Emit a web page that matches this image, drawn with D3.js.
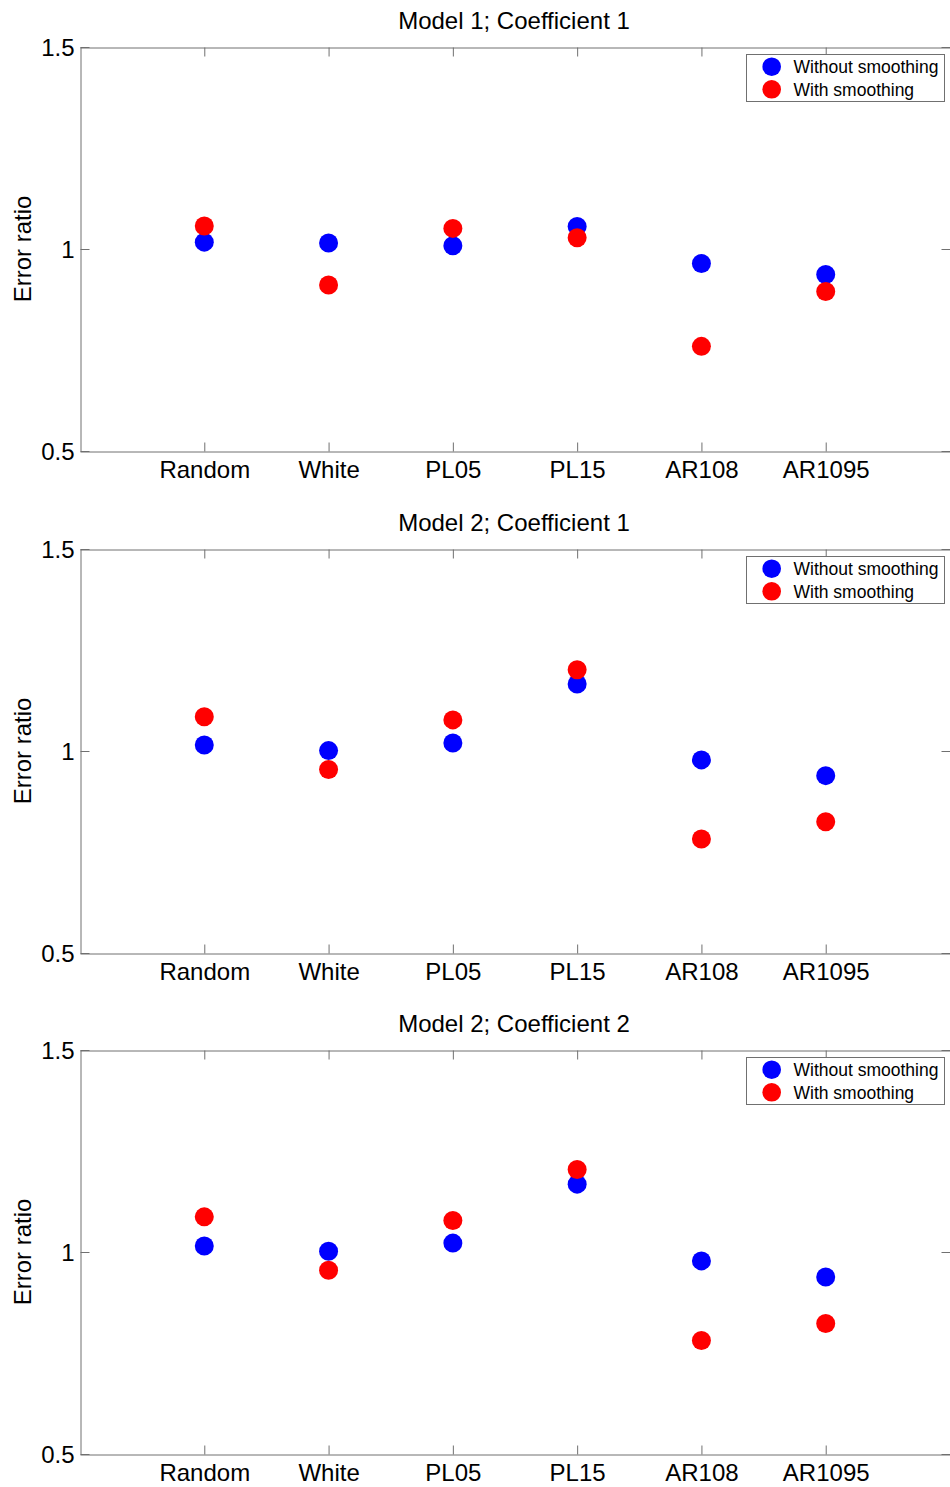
<!DOCTYPE html>
<html>
<head>
<meta charset="utf-8">
<script src="https://cdn.jsdelivr.net/npm/d3@7"></script>
<style>
  html, body { margin: 0; padding: 0; background: #fff; }
  svg { display: block; font-family: "Liberation Sans", Arial, sans-serif; }
</style>
</head>
<body>
<div id="chart"></div>
<script>
// Category labels along the x axis
const categories = ["Random", "White", "PL05", "PL15", "AR108", "AR1095"];
const panelTitles = ["Model 1; Coefficient 1", "Model 2; Coefficient 1", "Model 2; Coefficient 2"];
const yTicks = [0.5, 1, 1.5];
const seriesNames = ["Without smoothing", "With smoothing"];
const seriesColors = ["#0000ff", "#ff0000"];

// Error ratios per panel
const m1c1Without = [1.017, 1.015, 1.008, 1.056, 0.964, 0.937];
const m1c1With    = [1.057, 0.911, 1.051, 1.028, 0.759, 0.895];
const m2c1Without = [1.015, 1.001, 1.020, 1.166, 0.978, 0.939];
const m2c1With    = [1.085, 0.954, 1.077, 1.201, 0.782, 0.825];
const m2c2Without = [1.015, 1.002, 1.022, 1.168, 0.978, 0.938];
const m2c2With    = [1.087, 0.955, 1.078, 1.204, 0.781, 0.823];

const panels = [
  { title: panelTitles[0], series: [m1c1Without, m1c1With] },
  { title: panelTitles[1], series: [m2c1Without, m2c1With] },
  { title: panelTitles[2], series: [m2c2Without, m2c2With] }
];

const W = 950, H = 1487;
const left = 80, right = 950;
const firstTop = 47, panelStep = 501.5, panelH = 403.5;
const axisColor = "#707070";
const fontSize = 24;

const svg = d3.select("#chart").append("svg")
  .attr("width", W).attr("height", H);

const x = d3.scaleLinear().domain([0, categories.length + 1]).range([left, right]);

panels.forEach((p, pi) => {
  const top = Math.round(firstTop + pi * panelStep);
  const bottom = Math.round(top + panelH);
  const y = d3.scaleLinear().domain([0.5, 1.5]).range([bottom, top]);
  const g = svg.append("g");

  // white plotting area
  g.append("rect").attr("x", left).attr("y", top)
    .attr("width", right - left).attr("height", bottom - top).attr("fill", "#fff");

  const catIdx = d3.range(1, categories.length + 1);

  const styleAxis = sel => {
    sel.selectAll("path.domain").attr("stroke", axisColor).attr("stroke-width", 1);
    sel.selectAll(".tick line").attr("stroke", axisColor).attr("stroke-width", 1);
    sel.selectAll("text").attr("fill", "#000")
      .style("font-size", fontSize + "px")
      .style("font-family", "'Liberation Sans', Arial, sans-serif");
  };

  // bottom axis with category labels
  g.append("g").attr("transform", `translate(0,${bottom + 0.5})`)
    .call(d3.axisBottom(x).tickValues(catIdx).tickFormat(i => categories[i - 1])
      .tickSizeInner(-9).tickSizeOuter(0).tickPadding(9))
    .call(styleAxis);

  // top axis (ticks only)
  g.append("g").attr("transform", `translate(0,${top + 0.5})`)
    .call(d3.axisTop(x).tickValues(catIdx).tickFormat("")
      .tickSizeInner(-9).tickSizeOuter(0))
    .call(styleAxis);

  // left axis with values
  g.append("g").attr("transform", `translate(${left + 0.5},0)`)
    .call(d3.axisLeft(y).tickValues(yTicks).tickFormat(d3.format("~g"))
      .tickSizeInner(-9).tickSizeOuter(0).tickPadding(6))
    .call(styleAxis)
    .selectAll("text").attr("dy", "0.36em");

  // right axis (ticks only)
  g.append("g").attr("transform", `translate(${right + 0.5},0)`)
    .call(d3.axisRight(y).tickValues(yTicks).tickFormat("")
      .tickSizeInner(-9).tickSizeOuter(0))
    .call(styleAxis);

  // title
  g.append("text")
    .attr("x", (left + right) / 2 - 1)
    .attr("y", top - 18.5)
    .attr("text-anchor", "middle")
    .style("font-size", fontSize + "px")
    .attr("fill", "#000")
    .text(p.title);

  // y label
  g.append("text")
    .attr("transform", `translate(31,${(top + bottom) / 2}) rotate(-90)`)
    .attr("text-anchor", "middle")
    .style("font-size", fontSize + "px")
    .attr("fill", "#000")
    .text("Error ratio");

  // markers: without smoothing first, with smoothing drawn over it
  p.series.forEach((vals, si) => {
    g.append("g").selectAll("circle")
      .data(vals)
      .join("circle")
      .attr("cx", (d, i) => x(i + 1))
      .attr("cy", d => y(d))
      .attr("r", 9.5)
      .attr("fill", seriesColors[si]);
  });

  // legend
  const lg = g.append("g").attr("transform", `translate(746,${top + 7})`);
  lg.append("rect").attr("x", 0.5).attr("y", 0.5)
    .attr("width", 198).attr("height", 47)
    .attr("fill", "#fff").attr("stroke", axisColor).attr("stroke-width", 1);
  seriesNames.forEach((name, si) => {
    const cy = 12.7 + si * 22.6;
    lg.append("circle").attr("cx", 25.7).attr("cy", cy).attr("r", 9.3)
      .attr("fill", seriesColors[si]);
    lg.append("text").attr("x", 47.5).attr("y", cy + 6.3)
      .style("font-size", "17.5px").attr("fill", "#000")
      .text(name);
  });
});
</script>
</body>
</html>
